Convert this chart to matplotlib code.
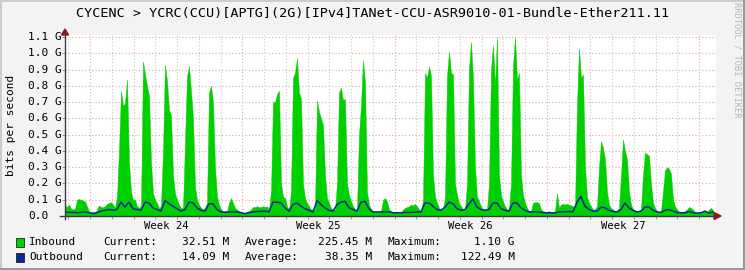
import numpy as np
import matplotlib
matplotlib.use("Agg")
import matplotlib.pyplot as plt
from matplotlib.patches import Rectangle, Polygon
from matplotlib.lines import Line2D
from matplotlib.transforms import blended_transform_factory

# ---------------- data ----------------
title = "CYCENC > YCRC(CCU)[APTG](2G)[IPv4]TANet-CCU-ASR9010-01-Bundle-Ether211.11"
week_labels = ["Week 24", "Week 25", "Week 26", "Week 27"]
week_label_days = [3.5, 10.5, 17.5, 24.5]
y_tick_values = [0.0, 0.1, 0.2, 0.3, 0.4, 0.5, 0.6, 0.7, 0.8, 0.9, 1.0, 1.1]
y_tick_labels = ["0.0", "0.1 G", "0.2 G", "0.3 G", "0.4 G", "0.5 G", "0.6 G",
                 "0.7 G", "0.8 G", "0.9 G", "1.0 G", "1.1 G"]
y_label = "bits per second"
series_names = ["Inbound", "Outbound"]
legend_current = ["32.51 M", "14.09 M"]
legend_average = ["225.45 M", "38.35 M"]
legend_maximum = ["1.10 G", "122.49 M"]

# time span of the samples, in days relative to the start of week 24
data_start_day = -1.149
data_end_day = 28.634

# inbound traffic, Mbit/s (evenly spaced samples)
inbound_mbps = [
    65, 55, 70, 45, 40, 45, 100, 105, 100, 95, 90, 60, 30, 25, 25, 25, 40, 65, 55, 55,
    60, 75, 80, 85, 70, 50, 120, 400, 770, 680, 690, 840, 330, 150, 100, 100, 60, 50, 60, 950,
    870, 800, 740, 330, 140, 100, 80, 50, 60, 400, 930, 830, 650, 620, 250, 140, 100, 70, 50, 50,
    450, 860, 920, 770, 600, 180, 100, 70, 50, 40, 50, 80, 760, 800, 700, 300, 120, 70, 40, 30,
    30, 30, 80, 110, 80, 50, 40, 30, 25, 20, 20, 25, 30, 40, 55, 55, 60, 55, 55, 60,
    55, 60, 40, 150, 700, 700, 750, 770, 200, 120, 110, 60, 40, 150, 850, 880, 970, 760, 720, 200,
    110, 80, 60, 40, 40, 40, 710, 640, 600, 560, 250, 110, 80, 50, 40, 40, 200, 760, 790, 710,
    720, 200, 130, 90, 60, 40, 40, 500, 680, 960, 820, 150, 70, 40, 30, 25, 25, 25, 30, 100,
    110, 90, 40, 30, 25, 25, 20, 20, 20, 40, 50, 55, 60, 70, 65, 75, 60, 40, 30, 100,
    880, 850, 920, 860, 250, 120, 80, 50, 40, 40, 120, 860, 1010, 880, 870, 200, 130, 80, 60, 40,
    40, 200, 910, 1070, 840, 300, 120, 90, 60, 40, 40, 40, 200, 900, 1050, 800, 1100, 250, 130, 90,
    60, 40, 40, 200, 920, 1100, 840, 880, 250, 130, 80, 50, 30, 30, 80, 85, 85, 80, 40, 30,
    25, 25, 30, 25, 25, 30, 140, 50, 70, 75, 70, 75, 70, 65, 60, 50, 680, 1030, 850, 870,
    300, 120, 80, 60, 40, 40, 60, 300, 460, 420, 350, 150, 70, 50, 40, 30, 30, 50, 250, 470,
    400, 350, 150, 70, 40, 30, 25, 30, 40, 250, 390, 380, 370, 200, 80, 50, 30, 25, 30, 150,
    280, 300, 290, 260, 100, 60, 40, 25, 25, 25, 30, 40, 55, 50, 40, 25, 20, 20, 20, 25,
    30, 25, 40, 50, 35,
]

# outbound traffic, Mbit/s (evenly spaced samples)
outbound_mbps = [
    25, 22, 22, 20, 22, 25, 20, 15, 20, 30, 35, 40, 35, 40, 85, 55, 85, 45, 40, 35,
    85, 80, 50, 40, 30, 95, 75, 60, 45, 30, 40, 85, 80, 50, 35, 30, 75, 75, 40, 25,
    22, 25, 25, 25, 20, 15, 20, 25, 28, 28, 30, 25, 85, 85, 80, 50, 30, 70, 80, 60,
    45, 35, 25, 95, 70, 50, 35, 30, 70, 85, 90, 50, 40, 30, 85, 90, 45, 25, 25, 25,
    25, 25, 20, 20, 20, 22, 22, 22, 25, 25, 80, 80, 60, 40, 35, 55, 85, 75, 45, 35,
    40, 75, 105, 55, 40, 35, 40, 80, 80, 45, 35, 30, 80, 80, 50, 35, 25, 25, 25, 22,
    20, 20, 18, 22, 25, 25, 28, 25, 85, 120, 60, 40, 30, 30, 55, 50, 35, 28, 25, 40,
    80, 50, 35, 25, 30, 55, 55, 35, 25, 22, 35, 40, 30, 22, 20, 20, 28, 20, 18, 20,
    30, 18, 25,
]

# ---------------- figure ----------------
W, H = 745, 270
fig = plt.figure(figsize=(W / 100, H / 100), dpi=100)
fig.patch.set_facecolor("#F3F3F3")

def fx(px):
    return px / W

def fy(py):
    return 1 - py / H

# canvas geometry (pixels)
left_px, right_px, top_px, bottom_px = 65, 716, 35, 216
ax = fig.add_axes([fx(left_px), fy(bottom_px), fx(right_px) - fx(left_px), fy(top_px) - fy(bottom_px)])
ax.set_facecolor("white")
px_per_day = 152.3 / 7
ax.set_xlim((left_px - 90) / px_per_day, (right_px - 90) / px_per_day)
ax.set_ylim(0, (bottom_px - top_px) / 162.7)

for s in ax.spines.values():
    s.set_visible(False)

# grid
grid_minor = "#C8C8C8"
grid_major = "#F4A0A0"
for d in range(-1, 29):
    if d % 7 == 0:
        continue
    ax.axvline(d, color=grid_minor, lw=0.8, ls=(0, (1, 2)), zorder=1)
for d in range(0, 29, 7):
    ax.axvline(d, color=grid_major, lw=0.8, ls=(0, (1, 2)), zorder=1)
for v in y_tick_values[1:]:
    ax.axhline(v, color=grid_major, lw=0.8, ls=(0, (1, 2)), zorder=1)

# series
inb = np.array(inbound_mbps) / 1000.0
outb = np.array(outbound_mbps) / 1000.0
t_in = np.linspace(data_start_day, data_end_day, len(inb))
t_out = np.linspace(data_start_day, data_end_day, len(outb))
ax.fill_between(t_in, 0, inb, color="#00CF00", lw=0.3, edgecolor="#00CF00", zorder=2)
ax.plot(t_out, outb, color="#002A97", lw=1.1, zorder=3)

# ticks
ax.set_xticks(list(range(-1, 29)))
ax.set_xticklabels([])
ax.tick_params(axis="x", length=2, color="#888888", width=0.6, direction="out")
ax.set_yticks(y_tick_values)
ax.set_yticklabels([])
ax.tick_params(axis="y", length=2, color="#888888", width=0.6, direction="out")

mono = "DejaVu Sans Mono"
ytr = blended_transform_factory(fig.transFigure, ax.transData)
for v, lab in zip(y_tick_values, y_tick_labels):
    ax.text(fx(28), v, lab, transform=ytr, ha="left", va="center", fontsize=8,
            family=mono, color="black")
xtr = blended_transform_factory(ax.transData, fig.transFigure)
for d, lab in zip(week_label_days, week_labels):
    ax.text(d, fy(226), lab, transform=xtr, ha="center", va="center", fontsize=7.6,
            family=mono, color="black")

# axes lines and arrows
axis_col = "#3C3C3C"
arrow_col = "#8B1A1A"
fig.add_artist(Line2D([fx(65), fx(65)], [fy(219), fy(33)], color=axis_col, lw=1.0))
fig.add_artist(Line2D([fx(60), fx(715)], [fy(216), fy(216)], color=axis_col, lw=1.0))
fig.add_artist(Polygon([[fx(61.5), fy(35)], [fx(68.5), fy(35)], [fx(65), fy(29)]],
                       closed=True, color=arrow_col, transform=fig.transFigure))
fig.add_artist(Polygon([[fx(714), fy(212.5)], [fx(714), fy(219.5)], [fx(721), fy(216)]],
                       closed=True, color=arrow_col, transform=fig.transFigure))

# titles
fig.text(0.5, fy(14), title, ha="center", va="center", fontsize=9.7, family=mono, color="black")
fig.text(fx(11), fy(125.5), y_label, rotation=90, ha="center", va="center", fontsize=8,
         family=mono, color="black")
fig.text(fx(737), fy(60), "RRDTOOL / TOBI OETIKER", rotation=-90, ha="center", va="center",
         fontsize=6.3, family=mono, color="#B4B4B4")

# legend
colors = ["#00CF00", "#002A97"]
rows_y = [242, 257]
for name, col, ry, cur, avg, mx in zip(series_names, colors, rows_y,
                                       legend_current, legend_average, legend_maximum):
    fig.add_artist(Rectangle((fx(15.5), fy(ry + 4.5)), fx(8), 9 / H, facecolor=col,
                             edgecolor="#222222", lw=0.6, transform=fig.transFigure))
    fig.text(fx(29), fy(ry), name, ha="left", va="center", fontsize=8, family=mono)
    fig.text(fx(103), fy(ry), "Current:", ha="left", va="center", fontsize=8, family=mono)
    fig.text(fx(229), fy(ry), cur, ha="right", va="center", fontsize=8, family=mono)
    fig.text(fx(245), fy(ry), "Average:", ha="left", va="center", fontsize=8, family=mono)
    fig.text(fx(372), fy(ry), avg, ha="right", va="center", fontsize=8, family=mono)
    fig.text(fx(388), fy(ry), "Maximum:", ha="left", va="center", fontsize=8, family=mono)
    fig.text(fx(515), fy(ry), mx, ha="right", va="center", fontsize=8, family=mono)

# image border shading
fig.add_artist(Line2D([0, 1], [fy(1), fy(1)], color="#CBCBCB", lw=1.4))
fig.add_artist(Line2D([fx(1), fx(1)], [0, 1], color="#CBCBCB", lw=1.4))
fig.add_artist(Line2D([0, 1], [fy(268.5), fy(268.5)], color="#999999", lw=2.2))
fig.add_artist(Line2D([fx(743.5), fx(743.5)], [0, 1], color="#999999", lw=2.2))

fig.savefig("out.png", dpi=100, facecolor=fig.get_facecolor())
